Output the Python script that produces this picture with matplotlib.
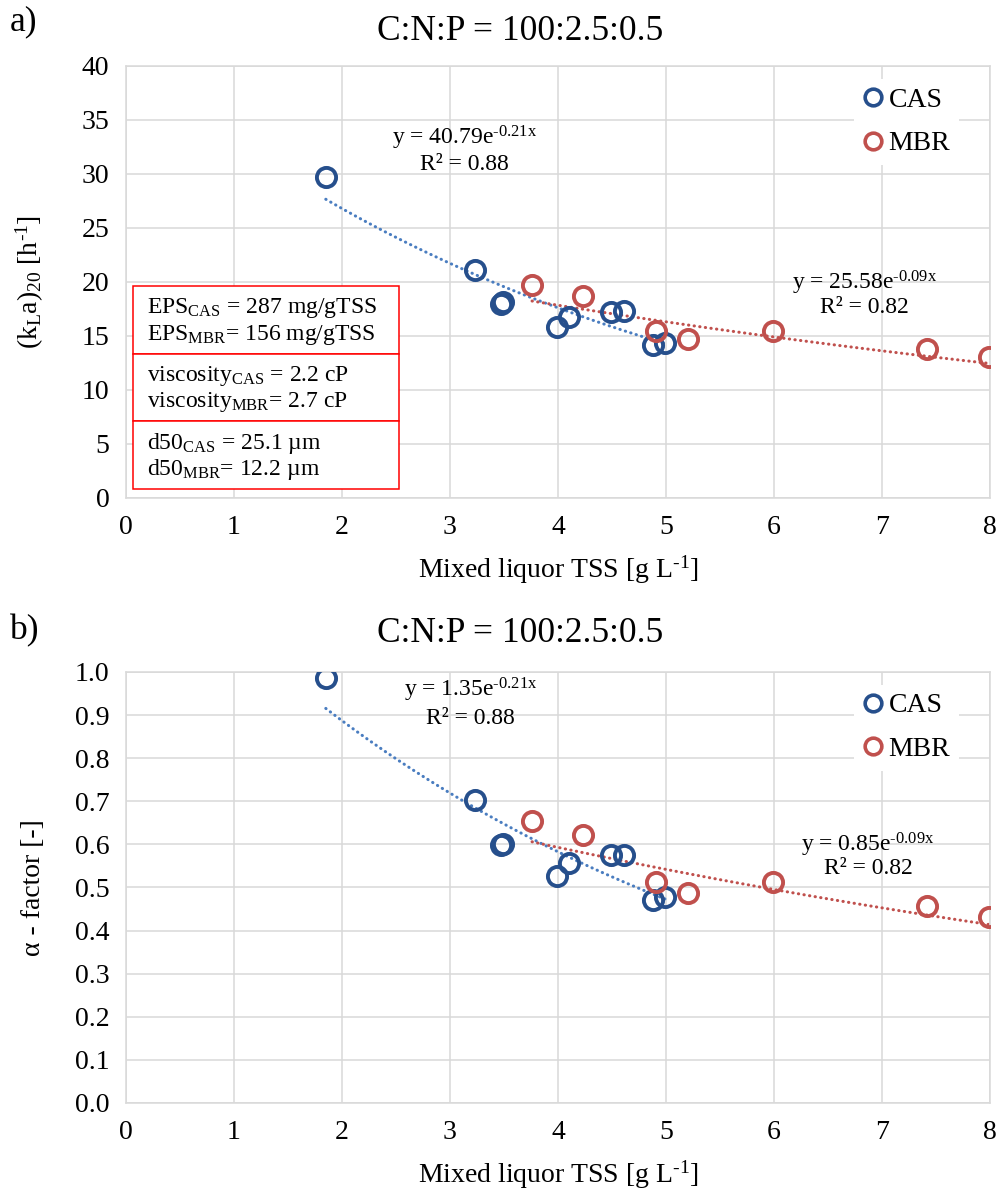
import numpy as np
import matplotlib.pyplot as plt
from matplotlib.patches import Rectangle
from matplotlib.lines import Line2D
from matplotlib.ticker import FormatStrFormatter

plt.rcParams['font.family'] = ['Liberation Serif', 'DejaVu Serif']
plt.rcParams['mathtext.fontset'] = 'custom'
plt.rcParams['mathtext.rm'] = 'Liberation Serif'
plt.rcParams['mathtext.it'] = 'Liberation Serif:italic'
plt.rcParams['mathtext.bf'] = 'Liberation Serif:bold'

# Data
cas_tss = [1.85, 3.23, 3.47, 3.49, 3.99, 4.10, 4.49, 4.61, 4.88, 4.99]
cas_kla = [29.7, 21.15, 18.0, 18.1, 15.86, 16.78, 17.25, 17.34, 14.17, 14.38]
cas_alpha = [0.985, 0.704, 0.598, 0.601, 0.527, 0.556, 0.575, 0.575, 0.471, 0.478]

mbr_tss = [3.76, 4.23, 4.91, 5.20, 5.99, 7.42, 7.99]
mbr_kla = [19.68, 18.72, 15.49, 14.69, 15.49, 13.83, 13.09]
mbr_alpha = [0.654, 0.622, 0.513, 0.488, 0.513, 0.458, 0.432]

# Exponential trendlines (a, b) as printed: y = a*exp(b*x)
cas_fit_kla = (40.79, -0.21)
mbr_fit_kla = (25.58, -0.09)
cas_fit_alpha = (1.35, -0.21)
mbr_fit_alpha = (0.85, -0.09)

HY = "\u2010"  # short hyphen, like the original superscripts

box_lines = [
    [r"EPS$_{\mathrm{CAS}}$ = 287 mg/gTSS", r"EPS$_{\mathrm{MBR}}$= 156 mg/gTSS"],
    [r"viscosity$_{\mathrm{CAS}}$ = 2.2 cP", r"viscosity$_{\mathrm{MBR}}$= 2.7 cP"],
    [r"d50$_{\mathrm{CAS}}$ = 25.1 µm", r"d50$_{\mathrm{MBR}}$= 12.2 µm"],
]

CAS_COLOR = "#264F8C"
MBR_COLOR = "#C0504D"
CAS_TREND = "#4A7DC0"
MBR_TREND = "#C0504D"
GRID = "#d9d9d9"


def trend(ax, xs, fit, color):
    x = np.linspace(min(xs), max(xs), 100)
    ax.plot(x, fit[0] * np.exp(fit[1] * x), color=color, lw=2.2,
            linestyle=(0, (0.1, 1.75)), dash_capstyle="round", zorder=2)


def draw_panel(ax, cas_y, mbr_y, cas_fit, mbr_fit, ymax, ystep):
    trend(ax, cas_tss, cas_fit, CAS_TREND)
    trend(ax, mbr_tss, mbr_fit, MBR_TREND)
    ax.plot(cas_tss, cas_y, "o", ms=13.8, mfc="none", mec=CAS_COLOR, mew=2.8, zorder=3)
    ax.plot(mbr_tss, mbr_y, "o", ms=13.8, mfc="none", mec=MBR_COLOR, mew=2.8, zorder=3)

    ax.set_xlim(0, 8)
    ax.set_ylim(0, ymax)
    ax.set_xticks(np.arange(0, 9, 1))
    ax.set_yticks(np.arange(0, ymax + ystep / 2, ystep))
    ax.grid(True, color=GRID, lw=1.1)
    ax.set_axisbelow(True)
    for s in ax.spines.values():
        s.set_color(GRID)
        s.set_linewidth(1.1)
    ax.tick_params(length=0, labelsize=20, pad=12)
    ax.set_xlabel(r"Mixed liquor TSS [g L$^{\mathrm{%s1}}$]" % HY, fontsize=20, labelpad=10)

    handles = [Line2D([], [], ls="none", marker="o", ms=12, mfc="none", mec=CAS_COLOR, mew=2.6),
               Line2D([], [], ls="none", marker="o", ms=12, mfc="none", mec=MBR_COLOR, mew=2.6)]
    ax.legend(handles, ["CAS", "MBR"], loc="center", bbox_to_anchor=(0.903, 0.871),
              frameon=True, facecolor="white", edgecolor="none", framealpha=1,
              fancybox=False, fontsize=20, handletextpad=0.15, handlelength=0.8,
              labelspacing=0.66, borderpad=0.3, borderaxespad=0)


fig = plt.figure(figsize=(10, 11.91), dpi=100)
ax1 = fig.add_axes([0.126, 0.5819, 0.864, 0.3627])
ax2 = fig.add_axes([0.126, 0.0739, 0.864, 0.3619])

# ---- panel a ----
draw_panel(ax1, cas_kla, mbr_kla, cas_fit_kla, mbr_fit_kla, 40, 5)
ax1.set_ylabel(r"(k$_{\mathrm{L}}$a)$_{20}$ [h$^{\mathrm{%s1}}$]" % HY, fontsize=20)
ax1.yaxis.set_label_coords(-0.093, 0.5)

ax1.text(0.392, 0.833, r"y = 40.79e$^{\mathrm{%s0.21x}}$" % HY, transform=ax1.transAxes,
         ha="center", va="center", fontsize=17)
ax1.text(0.392, 0.773, "R² = 0.88", transform=ax1.transAxes, ha="center", va="center", fontsize=17)
ax1.text(0.855, 0.498, r"y = 25.58e$^{\mathrm{%s0.09x}}$" % HY, transform=ax1.transAxes,
         ha="center", va="center", fontsize=17)
ax1.text(0.855, 0.440, "R² = 0.82", transform=ax1.transAxes, ha="center", va="center", fontsize=17)

# red parameter box
edges = [0.491, 0.333, 0.178, 0.0208]
for i, lines in enumerate(box_lines):
    top, bot = edges[i], edges[i + 1]
    ax1.add_patch(Rectangle((0.0081, bot), 0.308, top - bot, transform=ax1.transAxes,
                            facecolor="white", edgecolor="#ff0000", lw=1.1, zorder=4))
    h = top - bot
    ax1.text(0.0243, top - h * 0.33, lines[0], transform=ax1.transAxes,
             ha="left", va="center", fontsize=17, zorder=5)
    ax1.text(0.0243, top - h * 0.72, lines[1], transform=ax1.transAxes,
             ha="left", va="center", fontsize=17, zorder=5)

# ---- panel b ----
draw_panel(ax2, cas_alpha, mbr_alpha, cas_fit_alpha, mbr_fit_alpha, 1.0, 0.1)
ax2.yaxis.set_major_formatter(FormatStrFormatter("%.1f"))
ax2.set_ylabel("α - factor [-]", fontsize=20)
ax2.yaxis.set_label_coords(-0.093, 0.5)

ax2.text(0.399, 0.958, r"y = 1.35e$^{\mathrm{%s0.21x}}$" % HY, transform=ax2.transAxes,
         ha="center", va="center", fontsize=17)
ax2.text(0.399, 0.893, "R² = 0.88", transform=ax2.transAxes, ha="center", va="center", fontsize=17)
ax2.text(0.859, 0.599, r"y = 0.85e$^{\mathrm{%s0.09x}}$" % HY, transform=ax2.transAxes,
         ha="center", va="center", fontsize=17)
ax2.text(0.859, 0.543, "R² = 0.82", transform=ax2.transAxes, ha="center", va="center", fontsize=17)

# titles and panel letters
fig.text(0.52, 1 - 31 / 1191, "C:N:P = 100:2.5:0.5", ha="center", va="center", fontsize=25.5)
fig.text(0.52, 1 - 633 / 1191, "C:N:P = 100:2.5:0.5", ha="center", va="center", fontsize=25.5)
fig.text(0.010, 1 - 22 / 1191, "a)", ha="left", va="center", fontsize=25.5)
fig.text(0.010, 1 - 631 / 1191, "b)", ha="left", va="center", fontsize=25.5)

fig.savefig("out.png", dpi=100)
